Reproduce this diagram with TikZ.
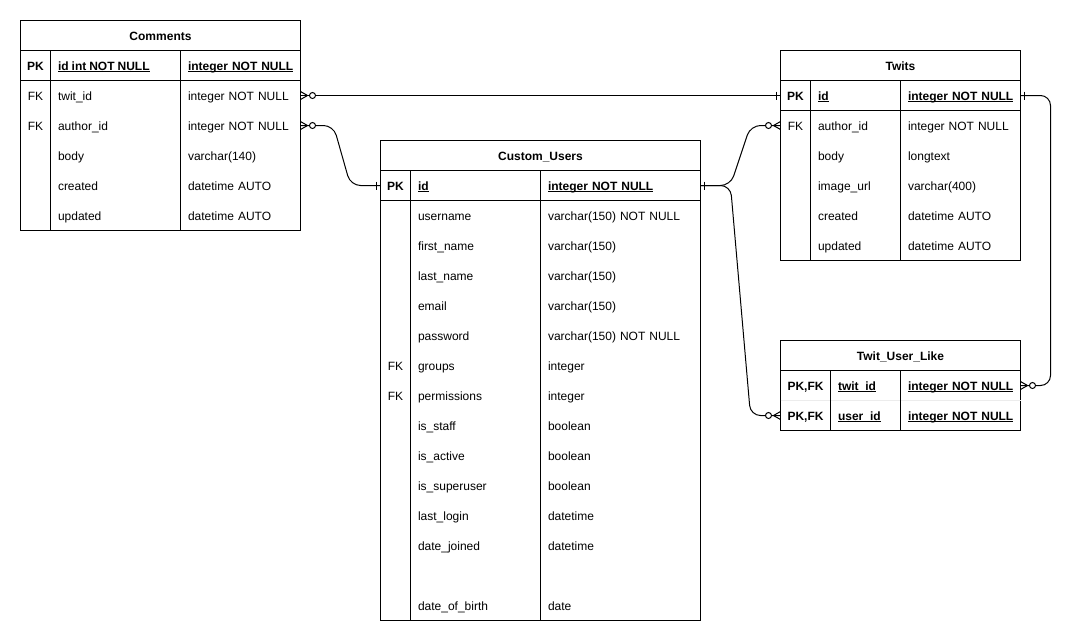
\documentclass[tikz,border=0pt]{standalone}
\usepackage{fontspec}
\setmainfont[WordSpace=0.9]{Liberation Sans}
\usepackage{tikz}

\newcommand{\keyul}[1]{\underline{\smash{#1}}}
\newcommand{\onebar}[2]{\draw[conn] (#1) ++(#2*4,-4) -- ++(0,8);}
\newcommand{\zeromany}[2]{%
	\draw[conn] (#1) ++(0,-4) -- ++(#2*7,4) -- ++(-#2*7,4);
	\draw[conn, fill=white] (#1) ++(#2*12,0) circle (3);}

\tikzset{
	cell/.style={inner sep=0pt, outer sep=0pt, text height=11pt, text depth=2pt, font=\fontsize{12}{14}\selectfont},
	hcell/.style={cell, font=\fontsize{12}{14}\selectfont\bfseries},
	frame/.style={draw, inner sep=0pt, outer sep=0pt, minimum width=#1},
	band/.style={frame=#1, minimum height=30pt, text height=11pt, text depth=2pt, font=\fontsize{12}{14}\selectfont\bfseries},
	keycell/.style={cell, minimum width=#1, align=center},
	keyhead/.style={hcell, minimum width=#1, align=center},
	namecell/.style={cell, anchor=west, xshift=-0.5pt},
	namehead/.style={hcell, anchor=west, xshift=-0.5pt},
	typecell/.style={cell, anchor=west, text width=#1, align=left, execute at begin node=\hspace*{-0.5pt}},
	typehead/.style={hcell, anchor=west, text width=#1, align=left, execute at begin node=\hspace*{-0.5pt}},
	conn/.style={black, line width=1pt},
}

\begin{document}
\begin{tikzpicture}[x=1pt, y=-1pt, line width=1pt]
	\useasboundingbox (-0.5,-0.5) rectangle (1079.5,640.5);

	% Comments
	\node[frame=280pt, minimum height=210pt] (comments) at (160,125) {};
	\node[band=280pt] (commentsTitle) at (160,35) {Comments};
	\node[band=280pt] (commentsHead) at (160,65) {};
	\draw (50,50) -- (50,230);
	\draw (180,50) -- (180,230);
	\node[keyhead=30pt] (cIdK) at (35,65) {PK};
	\node[namehead] (cIdN) at (58,65) {\keyul{id int NOT NULL}};
	\node[typehead=112pt] (cIdT) at (188,65) {\keyul{integer NOT NULL}};
	\node[keycell=30pt] (cTwitK) at (35,95) {FK};
	\node[namecell] (cTwitN) at (58,95) {twit\_id};
	\node[typecell=112pt] (cTwitT) at (188,95) {integer NOT NULL};
	\node[keycell=30pt] (cAuthorK) at (35,125) {FK};
	\node[namecell] (cAuthorN) at (58,125) {author\_id};
	\node[typecell=112pt] (cAuthorT) at (188,125) {integer NOT NULL};
	\node[namecell] (cBodyN) at (58,155) {body};
	\node[typecell=112pt] (cBodyT) at (188,155) {varchar(140)};
	\node[namecell] (cCreatedN) at (58,185) {created};
	\node[typecell=112pt] (cCreatedT) at (188,185) {datetime AUTO};
	\node[namecell] (cUpdatedN) at (58,215) {updated};
	\node[typecell=112pt] (cUpdatedT) at (188,215) {datetime AUTO};

	% Custom_Users
	\node[frame=320pt, minimum height=480pt] (users) at (540,380) {};
	\node[band=320pt] (usersTitle) at (540,155) {Custom\_Users};
	\node[band=320pt] (usersHead) at (540,185) {};
	\draw (410,170) -- (410,620);
	\draw (540,170) -- (540,620);
	\node[keyhead=30pt] (uIdK) at (395,185) {PK};
	\node[namehead] (uIdN) at (418,185) {\keyul{id}};
	\node[typehead=152pt] (uIdT) at (548,185) {\keyul{integer NOT NULL}};
	\node[namecell] (uUsernameN) at (418,215) {username};
	\node[typecell=152pt] (uUsernameT) at (548,215) {varchar(150) NOT NULL};
	\node[namecell] (uFirstN) at (418,245) {first\_name};
	\node[typecell=152pt] (uFirstT) at (548,245) {varchar(150)};
	\node[namecell] (uLastN) at (418,275) {last\_name};
	\node[typecell=152pt] (uLastT) at (548,275) {varchar(150)};
	\node[namecell] (uEmailN) at (418,305) {email};
	\node[typecell=152pt] (uEmailT) at (548,305) {varchar(150)};
	\node[namecell] (uPasswordN) at (418,335) {password};
	\node[typecell=152pt] (uPasswordT) at (548,335) {varchar(150) NOT NULL};
	\node[keycell=30pt] (uGroupsK) at (395,365) {FK};
	\node[namecell] (uGroupsN) at (418,365) {groups};
	\node[typecell=152pt] (uGroupsT) at (548,365) {integer};
	\node[keycell=30pt] (uPermsK) at (395,395) {FK};
	\node[namecell] (uPermsN) at (418,395) {permissions};
	\node[typecell=152pt] (uPermsT) at (548,395) {integer};
	\node[namecell] (uStaffN) at (418,425) {is\_staff};
	\node[typecell=152pt] (uStaffT) at (548,425) {boolean};
	\node[namecell] (uActiveN) at (418,455) {is\_active};
	\node[typecell=152pt] (uActiveT) at (548,455) {boolean};
	\node[namecell] (uSuperN) at (418,485) {is\_superuser};
	\node[typecell=152pt] (uSuperT) at (548,485) {boolean};
	\node[namecell] (uLoginN) at (418,515) {last\_login};
	\node[typecell=152pt] (uLoginT) at (548,515) {datetime};
	\node[namecell] (uJoinedN) at (418,545) {date\_joined};
	\node[typecell=152pt] (uJoinedT) at (548,545) {datetime};
	\node[namecell] (uBirthN) at (418,605) {date\_of\_birth};
	\node[typecell=152pt] (uBirthT) at (548,605) {date};

	% Twits
	\node[frame=240pt, minimum height=210pt] (twits) at (900,155) {};
	\node[band=240pt] (twitsTitle) at (900,65) {Twits};
	\node[band=240pt] (twitsHead) at (900,95) {};
	\draw (810,80) -- (810,260);
	\draw (900,80) -- (900,260);
	\node[keyhead=30pt] (tIdK) at (795,95) {PK};
	\node[namehead] (tIdN) at (818,95) {\keyul{id}};
	\node[typehead=112pt] (tIdT) at (908,95) {\keyul{integer NOT NULL}};
	\node[keycell=30pt] (tAuthorK) at (795,125) {FK};
	\node[namecell] (tAuthorN) at (818,125) {author\_id};
	\node[typecell=112pt] (tAuthorT) at (908,125) {integer NOT NULL};
	\node[namecell] (tBodyN) at (818,155) {body};
	\node[typecell=112pt] (tBodyT) at (908,155) {longtext};
	\node[namecell] (tImageN) at (818,185) {image\_url};
	\node[typecell=112pt] (tImageT) at (908,185) {varchar(400)};
	\node[namecell] (tCreatedN) at (818,215) {created};
	\node[typecell=112pt] (tCreatedT) at (908,215) {datetime AUTO};
	\node[namecell] (tUpdatedN) at (818,245) {updated};
	\node[typecell=112pt] (tUpdatedT) at (908,245) {datetime AUTO};

	% Twit_User_Like
	\node[frame=240pt, minimum height=90pt] (likes) at (900,385) {};
	\node[band=240pt] (likesTitle) at (900,355) {Twit\_User\_Like};
	\draw[gray!15] (780,400) -- (1020,400);
	\draw (830,370) -- (830,430);
	\draw (900,370) -- (900,430);
	\node[keyhead=50pt] (lTwitK) at (805,385) {PK,FK};
	\node[namehead] (lTwitN) at (838,385) {\keyul{twit\_id}};
	\node[typehead=112pt] (lTwitT) at (908,385) {\keyul{integer NOT NULL}};
	\node[keyhead=50pt] (lUserK) at (805,415) {PK,FK};
	\node[namehead] (lUserN) at (838,415) {\keyul{user\_id}};
	\node[typehead=112pt] (lUserT) at (908,415) {\keyul{integer NOT NULL}};

	% connectors
	\draw[conn] (cTwitT.east) -- (tIdK.west);
	\draw[conn, rounded corners=10pt] (cAuthorT.east) -- ++(33,0) -- ([xshift=-30pt]uIdK.west) -- (uIdK.west);
	\draw[conn, rounded corners=10pt] (uIdT.east) -- ++(30,0) -- ([xshift=-30pt]tAuthorK.west) -- (tAuthorK.west);
	\draw[conn, rounded corners=10pt] (uIdT.east) -- ++(30,0) -- ([xshift=-30pt]lUserK.west) -- (lUserK.west);
	\draw[conn, rounded corners=10pt] (tIdT.east) -- ++(30,0) -- ([xshift=30pt]lTwitT.east) -- (lTwitT.east);

	\zeromany{cTwitT.east}{1}
	\zeromany{cAuthorT.east}{1}
	\zeromany{tAuthorK.west}{-1}
	\zeromany{lUserK.west}{-1}
	\zeromany{lTwitT.east}{1}
	\onebar{tIdK.west}{-1}
	\onebar{uIdK.west}{-1}
	\onebar{uIdT.east}{1}
	\onebar{tIdT.east}{1}

\end{tikzpicture}
\end{document}
